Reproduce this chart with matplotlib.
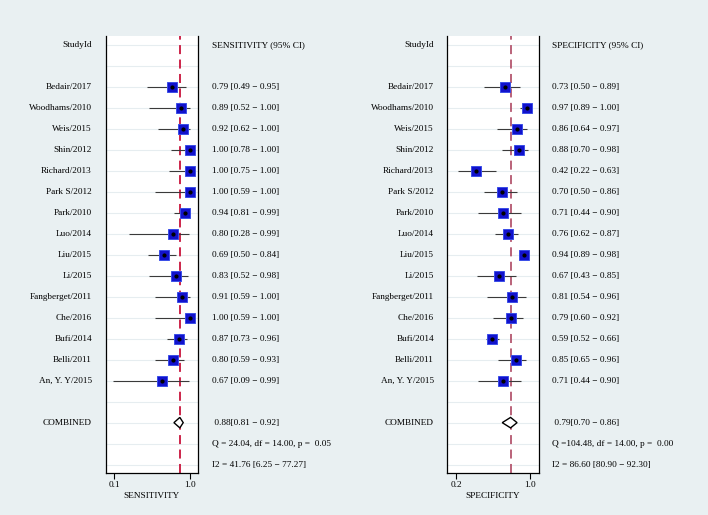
import numpy as np
import matplotlib
matplotlib.use("Agg")
import matplotlib.pyplot as plt
from matplotlib.patches import Polygon
from matplotlib.transforms import blended_transform_factory

# ---------------- Données
studies = ["Bedair/2017", "Woodhams/2010", "Weis/2015", "Shin/2012", "Richard/2013",
           "Park S/2012", "Park/2010", "Luo/2014", "Liu/2015", "Li/2015",
           "Fangberget/2011", "Che/2016", "Bufi/2014", "Belli/2011", "An, Y. Y/2015"]

sens = [0.79, 0.89, 0.92, 1.00, 1.00, 1.00, 0.94, 0.80, 0.69, 0.83, 0.91, 1.00, 0.87, 0.80, 0.67]
sens_lo = [0.49, 0.52, 0.62, 0.78, 0.75, 0.59, 0.81, 0.28, 0.50, 0.52, 0.59, 0.59, 0.73, 0.59, 0.09]
sens_hi = [0.95, 1.00, 1.00, 1.00, 1.00, 1.00, 0.99, 0.99, 0.84, 0.98, 1.00, 1.00, 0.96, 0.93, 0.99]

spec = [0.73, 0.97, 0.86, 0.88, 0.42, 0.70, 0.71, 0.76, 0.94, 0.67, 0.81, 0.79, 0.59, 0.85, 0.71]
spec_lo = [0.50, 0.89, 0.64, 0.70, 0.22, 0.50, 0.44, 0.62, 0.89, 0.43, 0.54, 0.60, 0.52, 0.65, 0.44]
spec_hi = [0.89, 1.00, 0.97, 0.98, 0.63, 0.86, 0.90, 0.87, 0.98, 0.85, 0.96, 0.92, 0.66, 0.96, 0.90]

sens_comb = [0.88, 0.81, 0.92]
spec_comb = [0.79, 0.70, 0.86]
sens_q = "Q = 24.04, df = 14.00, p =  0.05"
spec_q = "Q =104.48, df = 14.00, p =  0.00"
sens_i2 = "I2 = 41.76 [6.25 \u2212 77.27]"
spec_i2 = "I2 = 86.60 [80.90 \u2212 92.30]"

bg = "#E9F0F2"
plt.rcParams['font.family'] = ['Liberation Serif', 'DejaVu Serif']
fs = 6.7

fig = plt.figure(figsize=(7.08, 5.15), dpi=100, facecolor=bg)


# ---------------- Un panneau
def panel(pos, est, lo, hi, comb, qtxt, i2txt, name, ticks, xmin, linecol, xlab, xname, xval):
    ax = fig.add_axes(pos)
    ax.set_facecolor("white")
    n = len(est)
    rows = np.arange(2, 2 + n)
    # lignes de fond
    for r in range(0, 21):
        ax.axhline(r, color="#E6EDF0", lw=0.8, zorder=0)
    ax.axvline(comb[0], color=linecol, lw=1.3, ls=(0, (5, 3)), zorder=1)
    ax.hlines(rows, lo, hi, color="#3a3a3a", lw=0.8, zorder=2)
    ax.plot(est, rows, "s", ms=7, mfc="#1212CC", mec="#3a4ee8", mew=0.7, zorder=3)
    ax.plot(est, rows, "o", ms=2.0, mfc="black", mec="black", zorder=4)
    # losange combiné
    yc = 18
    diam = Polygon([(comb[1], yc), (comb[0], yc - 0.25), (comb[2], yc), (comb[0], yc + 0.25)],
                   closed=True, fc="white", ec="black", lw=1.0, zorder=4)
    ax.add_patch(diam)
    ax.set_xlim(xmin, 1.1)
    ax.set_ylim(20.4, -0.43)
    ax.set_xticks(ticks)
    ax.set_xticklabels(["%.1f" % t for t in ticks], fontsize=fs)
    ax.set_yticks([])
    ax.tick_params(axis="x", direction="out", length=4, width=0.8, pad=2)
    ax.spines["top"].set_visible(False)
    for s in ["left", "right", "bottom"]:
        ax.spines[s].set_linewidth(0.9)
    ax.set_xlabel(xlab, fontsize=fs, labelpad=2)

    tr = blended_transform_factory(fig.transFigure, ax.transData)
    ax.text(xname, 0, "StudyId", transform=tr, ha="right", va="center", fontsize=fs)
    ax.text(xval, 0, name + " (95% CI)", transform=tr, ha="left", va="center", fontsize=fs)
    for i in range(n):
        ax.text(xname, rows[i], studies[i], transform=tr, ha="right", va="center", fontsize=fs)
        ax.text(xval, rows[i], "%.2f [%.2f \u2212 %.2f]" % (est[i], lo[i], hi[i]),
                transform=tr, ha="left", va="center", fontsize=fs)
    ax.text(xname, 18, "COMBINED", transform=tr, ha="right", va="center", fontsize=fs)
    ax.text(xval, 18, " %.2f[%.2f \u2212 %.2f]" % (comb[0], comb[1], comb[2]),
            transform=tr, ha="left", va="center", fontsize=fs)
    ax.text(xval, 19, qtxt, transform=tr, ha="left", va="center", fontsize=fs)
    ax.text(xval, 20, i2txt, transform=tr, ha="left", va="center", fontsize=fs)
    return ax


panel([105.6 / 708, 1 - 473 / 515, 92.8 / 708, 437 / 515], sens, sens_lo, sens_hi, sens_comb,
      sens_q, sens_i2, "SENSITIVITY", [0.1, 1.0], 0.0, "#C8143C", "SENSITIVITY",
      92 / 708, 212 / 708)
panel([446.75 / 708, 1 - 473 / 515, 92.5 / 708, 437 / 515], spec, spec_lo, spec_hi, spec_comb,
      spec_q, spec_i2, "SPECIFICITY", [0.2, 1.0], 0.1, "#B4566E", "SPECIFICITY",
      434 / 708, 552 / 708)

fig.savefig("out.png", dpi=100, facecolor=bg)
